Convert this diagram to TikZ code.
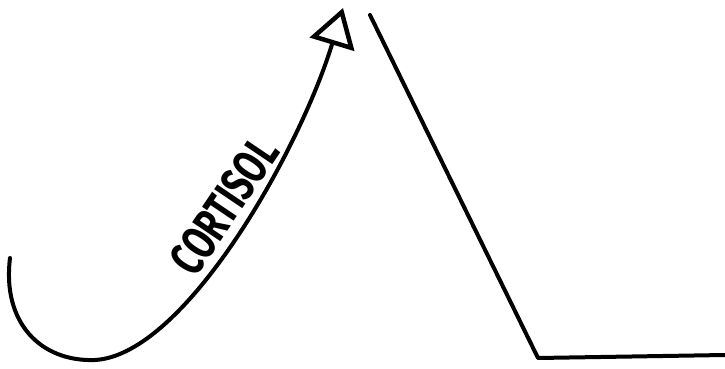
\documentclass[tikz,border=0pt]{standalone}
\usepackage{fontspec}
\newfontfamily\handfont{Fira Sans}[FakeStretch=0.7]
\usetikzlibrary{arrows.meta}
\tikzset{
  stroke/.style={line width=4pt,line cap=round,line join=round},
  hormone/.style={font=\handfont\bfseries\fontsize{49}{49}\selectfont,inner sep=0pt}
}

\begin{document}
\begin{tikzpicture}[x=1pt,y=-1pt]
  \useasboundingbox (0,0) rectangle (725,369);
  % rising curve with open head
  \draw[stroke,-{Triangle[open,length=38pt,width=46pt,line width=4.5pt]}]
    (10,258) .. controls (2,322) and (40,362) .. (95,360)
    .. controls (185,355) and (300,150) .. (343,8);
  \node[hormone,rotate=56,anchor=south] (cortisol) at (239,216) {CORTISOL};
  % fall and flat line
  \coordinate (peak) at (370,15);
  \coordinate (low) at (538,358);
  \coordinate (tail) at (725,355);
  \draw[stroke] (peak) -- (low) -- (tail);
\end{tikzpicture}
\end{document}
